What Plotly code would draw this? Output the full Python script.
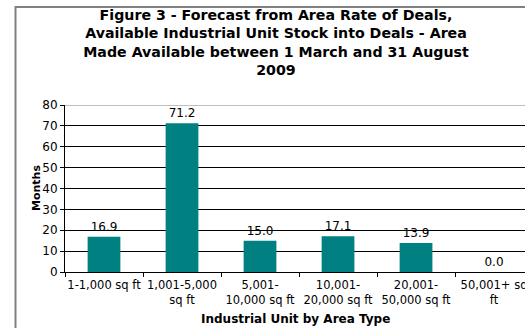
import plotly.graph_objects as go

categories = ["1-1,000 sq ft", "1,001-5,000<br>sq ft", "5,001-<br>10,000 sq ft",
              "10,001-<br>20,000 sq ft", "20,001-<br>50,000 sq ft", "50,001+ sq<br>ft"]
months = [16.9, 71.2, 15.0, 17.1, 13.9, 0.0]
y_ticks = [0, 10, 20, 30, 40, 50, 60, 70, 80]

FONT = "DejaVu Sans, Liberation Sans, sans-serif"

fig = go.Figure()
fig.add_trace(go.Bar(
    x=categories, y=months, width=0.42,
    marker=dict(color="#008080", line=dict(width=0)),
    texttemplate="%{y:.1f}", textposition="outside",
    textfont=dict(size=12, color="black", family=FONT),
    cliponaxis=False,
))

fig.update_layout(
    width=525, height=328,
    margin=dict(l=65, r=0, t=105, b=56),
    paper_bgcolor="white", plot_bgcolor="white",
    showlegend=False,
    font=dict(family=FONT, color="black", size=12),
    title=dict(
        text="<b>Figure 3 - Forecast from Area Rate of Deals,<br>Available Industrial Unit Stock into Deals - Area<br>Made Available between 1 March and 31 August<br>2009</b>",
        x=276/525, xanchor="center", xref="container",
        y=1-20/328, yanchor="top", yref="container",
        font=dict(size=14.2, family=FONT, color="black"),
    ),
    xaxis=dict(
        type="category", range=[-0.5, 5.397],
        showline=True, linecolor="black", linewidth=1,
        ticks="outside", tickson="boundaries", ticklen=4, tickcolor="black",
        showgrid=False, tickfont=dict(size=11.5), fixedrange=True,
        ticklabelstandoff=2, tickangle=0, automargin=False,
    ),
    yaxis=dict(
        range=[0, 80], tickvals=y_ticks,
        showline=True, linecolor="black", linewidth=1,
        ticks="outside", ticklen=4, tickcolor="black",
        showgrid=True, gridcolor="black", gridwidth=1,
        tickfont=dict(size=12), zeroline=False, automargin=False,
    ),
    annotations=[
        dict(text="<b>Months</b>", textangle=-90, x=(28-65)/460, xref="paper", y=0.5, yref="paper",
             showarrow=False, font=dict(size=11)),
        dict(text="<b>Industrial Unit by Area Type</b>", x=0.5, xref="paper",
             y=-(319-272)/167, yref="paper", yanchor="middle", showarrow=False,
             font=dict(size=12)),
    ],
    shapes=[
        dict(type="line", xref="paper", yref="y", x0=0, x1=1, y0=80, y1=80,
             line=dict(color="#808080", width=1)),
        dict(type="rect", xref="paper", yref="paper",
             x0=(15.5-65)/460, x1=1.2, y0=-0.5, y1=1+(105-7)/167,
             line=dict(color="#808080", width=2), fillcolor="rgba(0,0,0,0)", layer="below"),
    ],
)
fig.write_html("out.html")
